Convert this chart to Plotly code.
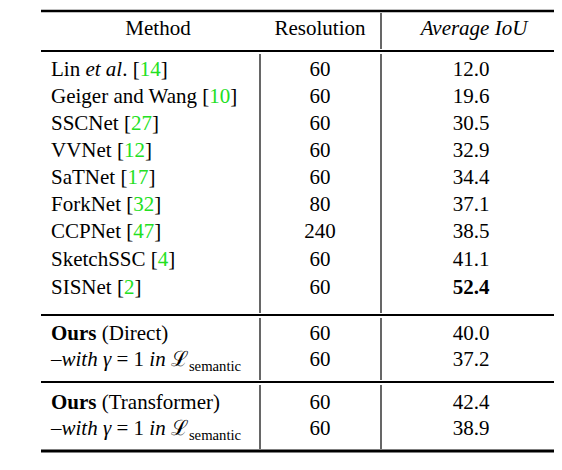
import plotly.graph_objects as go

G = "<span style='color:#22e022'>"
methods = [f"Lin <i>et al</i>. [{G}14</span>]", f"Geiger and Wang [{G}10</span>]",
           f"SSCNet [{G}27</span>]", f"VVNet [{G}12</span>]", f"SaTNet [{G}17</span>]",
           f"ForkNet [{G}32</span>]", f"CCPNet [{G}47</span>]", f"SketchSSC [{G}4</span>]",
           f"SISNet [{G}2</span>]",
           "<b>Ours</b> (Direct)", "–<i>with</i> <i>γ</i> = 1 <i>in</i> ℒ<sub>semantic</sub>",
           "<b>Ours</b> (Transformer)", "–<i>with</i> <i>γ</i> = 1 <i>in</i> ℒ<sub>semantic</sub>"]
resolution = [60, 60, 60, 60, 60, 80, 240, 60, 60, 60, 60, 60, 60]
iou = [12.0, 19.6, 30.5, 32.9, 34.4, 37.1, 38.5, 41.1, 52.4, 40.0, 37.2, 42.4, 38.9]
row_y = [63, 90, 117, 144, 171, 198, 225, 253, 281, 327, 353, 396, 422]

iou_txt = [f"<b>{v:.1f}</b>" if v == max(iou) else f"{v:.1f}" for v in iou]
font = dict(family="Liberation Serif, Times New Roman, serif", size=21, color="black")

fig = go.Figure()
fig.add_trace(go.Scatter(x=[43] * len(methods), y=row_y, text=methods, mode="text",
                         textposition="middle right", textfont=font))
fig.add_trace(go.Scatter(x=[312] * len(resolution), y=row_y, text=[str(r) for r in resolution],
                         mode="text", textposition="middle center", textfont=font))
fig.add_trace(go.Scatter(x=[463] * len(iou), y=row_y, text=iou_txt, mode="text",
                         textposition="middle center", textfont=font))
fig.add_trace(go.Scatter(x=[150, 312, 466], y=[22, 22, 22],
                         text=["Method", "Resolution", "<i>Average IoU</i>"], mode="text",
                         textposition="middle center", textfont=font))

for y, w in [(3, 2.5), (43, 2), (307, 2), (374, 2), (443, 3)]:
    fig.add_shape(type="line", x0=33, x1=550, y0=y, y1=y, line=dict(color="black", width=w))
fig.add_shape(type="line", x0=373, x1=373, y0=5, y1=41, line=dict(color="black", width=1.2))
for y0, y1 in [(46, 305), (310, 372), (377, 441)]:
    for x in (252, 373):
        fig.add_shape(type="line", x0=x, x1=x, y0=y0, y1=y1, line=dict(color="black", width=1.2))

fig.add_annotation(x=580, y=462, xanchor="right", yanchor="middle", showarrow=False,
                   text=f"Table 2. Semantic scene completion on NYU [{G}25</span>] dataset.",
                   font=font, xref="x", yref="y")

fig.update_layout(width=562, height=470, margin=dict(l=0, r=0, t=0, b=0),
                  plot_bgcolor="white", paper_bgcolor="white", showlegend=False,
                  xaxis=dict(range=[0, 562], visible=False, fixedrange=True),
                  yaxis=dict(range=[470, 0], visible=False, fixedrange=True))
fig.write_html("out.html")
